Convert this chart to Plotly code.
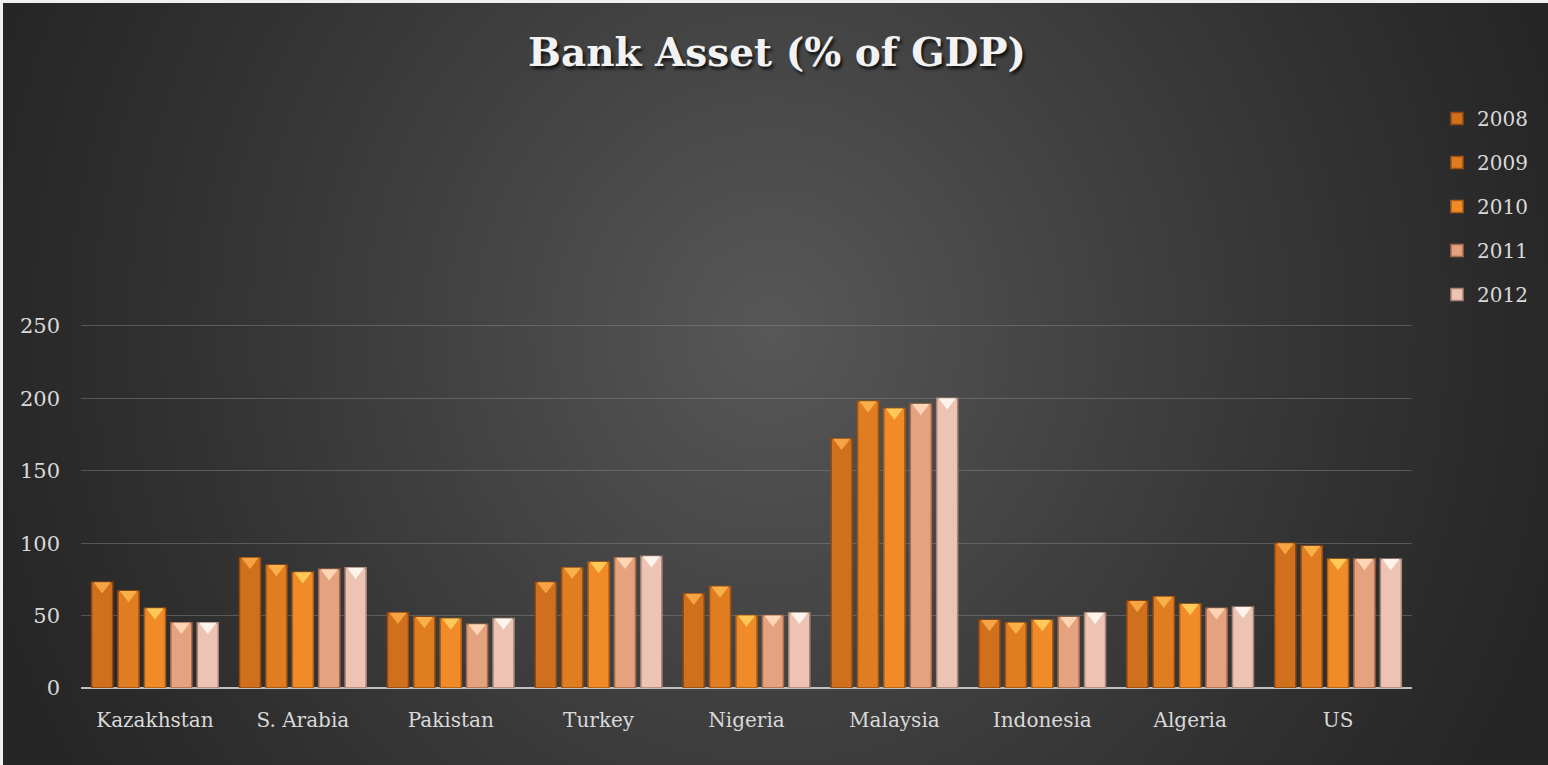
import base64
import struct
import zlib

import numpy as np
import plotly.graph_objects as go

# ---- data -------------------------------------------------------------
countries = ["Kazakhstan", "S. Arabia", "Pakistan", "Turkey", "Nigeria",
             "Malaysia", "Indonesia", "Algeria", "US"]
years = ["2008", "2009", "2010", "2011", "2012"]

y2008 = [73, 90, 52, 73, 65, 172, 47, 60, 100]
y2009 = [67, 85, 49, 83, 70, 198, 45, 63, 98]
y2010 = [55, 80, 48, 87, 50, 193, 47, 58, 89]
y2011 = [45, 82, 44, 90, 50, 196, 49, 55, 89]
y2012 = [45, 83, 48, 91, 52, 200, 52, 56, 89]
series = [y2008, y2009, y2010, y2011, y2012]

y_ticks = [0, 50, 100, 150, 200, 250]

# ---- style ------------------------------------------------------------
main_colors = ["#D0701C", "#E07D20", "#F08B27", "#E5A27F", "#EDC4B3"]
edge_colors = ["#93480F", "#9E5011", "#AA5E16", "#A86A4D", "#A88477"]
cap_colors = ["#F6A443", "#F9B048", "#FFC858", "#FFD5B5", "#FFF4EC"]

W, H = 1548, 765
PX_PER_UNIT = 1.448          # vertical pixels per percentage point
Y_MIN, Y_MAX = 0, 252        # a little headroom so the 250 grid line shows
M_L, M_R, M_B = 81, 136, 77
PLOT_H = round((Y_MAX - Y_MIN) * PX_PER_UNIT)
M_T = H - M_B - PLOT_H
PLOT_W = W - M_L - M_R

BAR_W = 0.142     # bar width in category units
BAR_STEP = 0.1785  # distance between neighbouring bars in a group
CAP_SIZE = 15


def png_data_uri(rgb):
    """Encode an (h, w, 3) uint8 array as a PNG data URI."""
    h, w, _ = rgb.shape
    raw = b"".join(b"\x00" + rgb[r].tobytes() for r in range(h))

    def chunk(tag, data):
        body = tag + data
        return (struct.pack(">I", len(data)) + body +
                struct.pack(">I", zlib.crc32(body) & 0xFFFFFFFF))

    png = (b"\x89PNG\r\n\x1a\n" +
           chunk(b"IHDR", struct.pack(">IIBBBBB", w, h, 8, 2, 0, 0, 0)) +
           chunk(b"IDAT", zlib.compress(raw, 9)) +
           chunk(b"IEND", b""))
    return "data:image/png;base64," + base64.b64encode(png).decode()


# radial dark-grey backdrop, lighter in the middle
yy, xx = np.mgrid[0:H, 0:W].astype(float)
d = np.sqrt(((xx - 770) / 830.0) ** 2 + ((yy - 330) / 880.0) ** 2)
d = np.clip(d, 0, 1)
lum = 38 + (88 - 38) * (1 - d) ** 1.15
bg = np.repeat(lum[:, :, None], 3, axis=2).astype(np.uint8)
bg[:3, :, :] = 240
bg[:, :3, :] = 240
bg_uri = png_data_uri(bg)

fig = go.Figure()

x_idx = np.arange(len(countries))
for j, (name, vals) in enumerate(zip(years, series)):
    center = (j - 2) * BAR_STEP
    fig.add_trace(go.Bar(
        name=name,
        x=x_idx,
        y=vals,
        width=BAR_W,
        offset=center - BAR_W / 2,
        marker=dict(color=main_colors[j],
                    line=dict(color=edge_colors[j], width=1.5)),
        legendgroup=name,
        hovertemplate="%{text}<br>" + name + ": %{y}<extra></extra>",
        text=countries,
        textposition="none",
    ))

# bevelled caps on top of each bar
for j, (name, vals) in enumerate(zip(years, series)):
    center = (j - 2) * BAR_STEP
    shift = (CAP_SIZE / 4) / PX_PER_UNIT
    fig.add_trace(go.Scatter(
        x=x_idx + center,
        y=np.array(vals, dtype=float) - shift,
        mode="markers",
        marker=dict(symbol="triangle-down", size=CAP_SIZE,
                    color=cap_colors[j], line=dict(width=0)),
        showlegend=False,
        hoverinfo="skip",
        legendgroup=name,
    ))

text_color = "#D9D9D9"
fig.update_layout(
    width=W, height=H,
    margin=dict(l=M_L, r=M_R, t=M_T, b=M_B),
    paper_bgcolor="#262626",
    plot_bgcolor="rgba(0,0,0,0)",
    barmode="overlay",
    font=dict(family="DejaVu Serif", size=20, color=text_color),
    title=dict(
        text="<b>Bank Asset (% of GDP)</b>",
        x=(777 - M_L) / PLOT_W, xref="paper", xanchor="center",
        y=1 - 52 / H, yanchor="middle",
        font=dict(family="DejaVu Serif", size=39, color="#F2F2F2",
                  shadow="2px 3px 3px rgba(0,0,0,0.75)"),
    ),
    xaxis=dict(
        range=[-0.5, len(countries) - 0.5],
        tickvals=list(x_idx),
        ticktext=countries,
        showgrid=False,
        zeroline=False,
        showline=False,
        ticks="",
        ticklabelstandoff=18,
        tickfont=dict(size=20, color=text_color),
        fixedrange=True,
    ),
    yaxis=dict(
        range=[Y_MIN, Y_MAX],
        tickvals=y_ticks,
        showgrid=True,
        gridcolor="rgba(140,140,140,0.45)",
        gridwidth=1,
        zeroline=True,
        zerolinecolor="#BFBFBF",
        zerolinewidth=2,
        showline=False,
        ticks="",
        ticklabelstandoff=20,
        tickfont=dict(size=21, color=text_color),
        fixedrange=True,
    ),
    legend=dict(
        x=(1437 - M_L) / PLOT_W, xanchor="left",
        y=(H - M_B - 99) / PLOT_H, yanchor="top",
        bgcolor="rgba(0,0,0,0)",
        font=dict(family="DejaVu Serif", size=20, color=text_color),
        tracegroupgap=15,
        itemwidth=30,
        traceorder="grouped",
    ),
    images=[dict(
        source=bg_uri,
        xref="paper", yref="paper",
        x=-M_L / PLOT_W, y=1 + M_T / PLOT_H,
        sizex=W / PLOT_W, sizey=H / PLOT_H,
        xanchor="left", yanchor="top",
        sizing="stretch", layer="below",
    )],
    showlegend=True,
)

fig.write_html("out.html")
